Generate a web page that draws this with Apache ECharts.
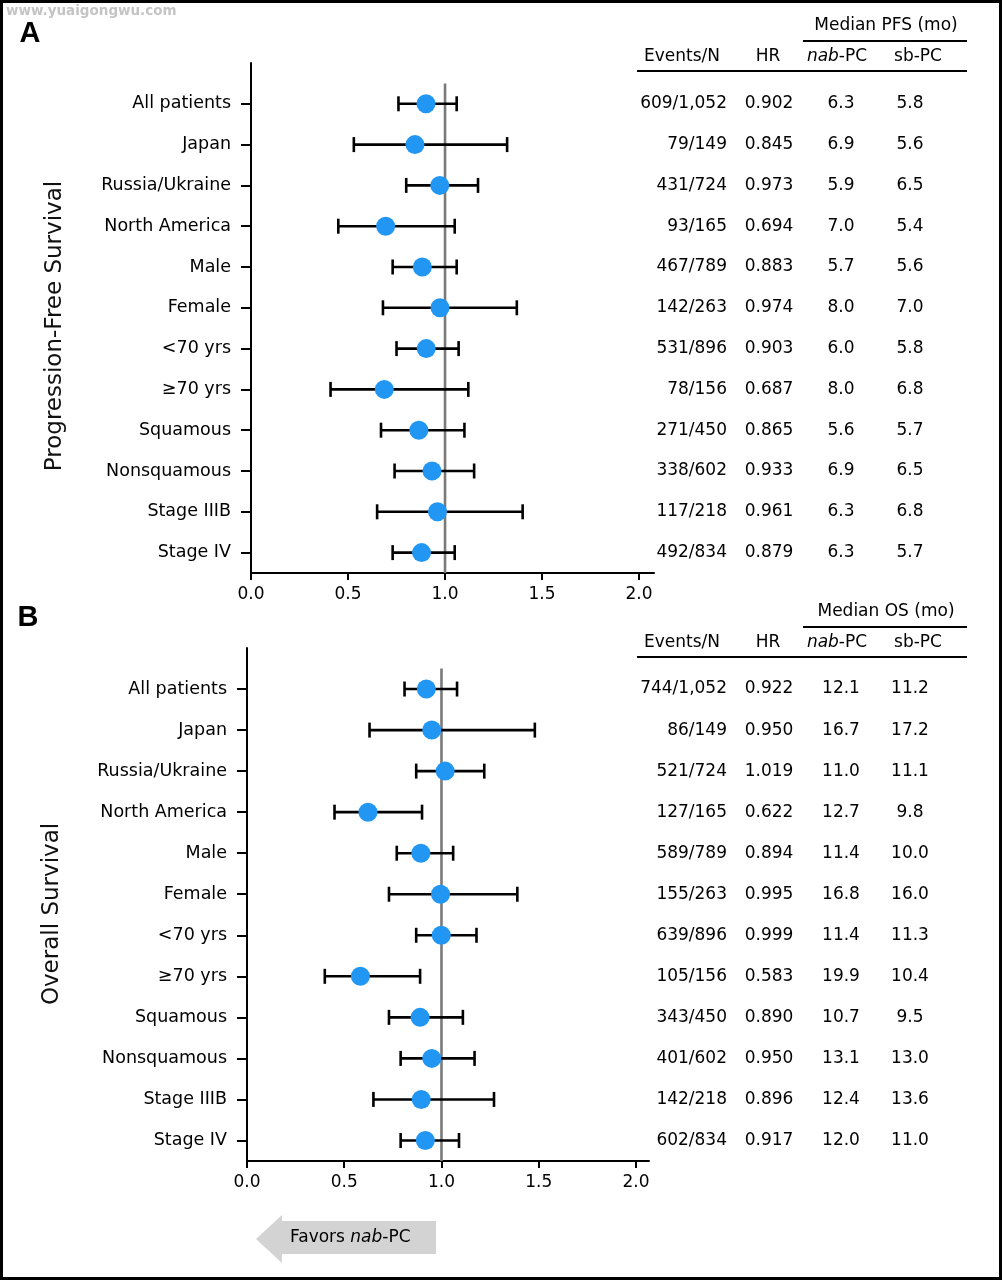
<!DOCTYPE html>
<html>
<head>
<meta charset="utf-8">
<script src="https://cdn.jsdelivr.net/npm/echarts@6/dist/echarts.min.js"></script>
<style>
html,body{margin:0;padding:0;background:#fff;}
#chart{width:1003px;height:1280px;}
</style>
</head>
<body>
<div id="chart"></div>
<script>
// ---- data ----
const categories = ['All patients','Japan','Russia/Ukraine','North America','Male','Female','<70 yrs','≥70 yrs','Squamous','Nonsquamous','Stage IIIB','Stage IV'];
const xTicks = [0, 0.5, 1.0, 1.5, 2.0];

const pfsHR   = [0.902,0.845,0.973,0.694,0.883,0.974,0.903,0.687,0.865,0.933,0.961,0.879];
const pfsLow  = [0.76,0.53,0.80,0.45,0.73,0.68,0.75,0.41,0.67,0.74,0.65,0.73];
const pfsHigh = [1.06,1.32,1.17,1.05,1.06,1.37,1.07,1.12,1.10,1.15,1.40,1.05];
const pfsEvents = ['609/1,052','79/149','431/724','93/165','467/789','142/263','531/896','78/156','271/450','338/602','117/218','492/834'];
const pfsNab = ['6.3','6.9','5.9','7.0','5.7','8.0','6.0','8.0','5.6','6.9','6.3','6.3'];
const pfsSb  = ['5.8','5.6','6.5','5.4','5.6','7.0','5.8','6.8','5.7','6.5','6.8','5.7'];

const osHR   = [0.922,0.950,1.019,0.622,0.894,0.995,0.999,0.583,0.890,0.950,0.896,0.917];
const osLow  = [0.81,0.63,0.87,0.45,0.77,0.73,0.87,0.40,0.73,0.79,0.65,0.79];
const osHigh = [1.08,1.48,1.22,0.90,1.06,1.39,1.18,0.89,1.11,1.17,1.27,1.09];
const osEvents = ['744/1,052','86/149','521/724','127/165','589/789','155/263','639/896','105/156','343/450','401/602','142/218','602/834'];
const osNab = ['12.1','16.7','11.0','12.7','11.4','16.8','11.4','19.9','10.7','13.1','12.4','12.0'];
const osSb  = ['11.2','17.2','11.1','9.8','10.0','16.0','11.3','10.4','9.5','13.0','13.6','11.0'];

const refValue = 1.0;
// ---- end data ----

const FONT = 'DejaVu Sans';
const rows = categories.map((c, i) => i);
const chart = echarts.init(document.getElementById('chart'));

function xAxisCfg(gi, max) {
  return {
    gridIndex: gi, type: 'value', min: 0, max: max,
    axisLine: {show: true, onZero: false, lineStyle: {color: '#000', width: 2}},
    axisTick: {show: true, length: 7, customValues: xTicks, lineStyle: {color: '#000', width: 2}},
    axisLabel: {customValues: xTicks, formatter: v => v.toFixed(1), fontSize: 17, fontFamily: FONT, color: '#000', margin: 13},
    splitLine: {show: false}
  };
}
function yAxisCfg(gi) {
  return {
    gridIndex: gi, type: 'value', inverse: true, min: -1, max: 11.5,
    axisLine: {show: true, onZero: false, lineStyle: {color: '#000', width: 2}},
    axisTick: {show: true, length: 10, customValues: rows, lineStyle: {color: '#000', width: 2}},
    axisLabel: {customValues: rows, formatter: v => categories[Math.round(v)], fontSize: 17.5, fontFamily: FONT, color: '#000', margin: 20},
    splitLine: {show: false}
  };
}

function errSeries(gi, low, high) {
  return {
    type: 'custom', xAxisIndex: gi, yAxisIndex: gi, z: 3,
    data: rows.map(i => [i, low[i], high[i]]),
    renderItem: function (params, api) {
      const r = api.value(0);
      const p1 = api.coord([api.value(1), r]);
      const p2 = api.coord([api.value(2), r]);
      const h = 7.5;
      const st = {stroke: '#000', lineWidth: 2.6};
      return {type: 'group', children: [
        {type: 'line', shape: {x1: p1[0], y1: p1[1], x2: p2[0], y2: p2[1]}, style: st},
        {type: 'line', shape: {x1: p1[0], y1: p1[1] - h, x2: p1[0], y2: p1[1] + h}, style: st},
        {type: 'line', shape: {x1: p2[0], y1: p2[1] - h, x2: p2[0], y2: p2[1] + h}, style: st}
      ]};
    }
  };
}

function tableSeries(gi, events, hr, nab, sb) {
  return {
    type: 'custom', xAxisIndex: gi, yAxisIndex: gi, z: 5, clip: false, silent: true,
    data: rows.map(i => [0, i]),
    renderItem: function (params, api) {
      const i = params.dataIndex;
      const y = api.coord([0, api.value(1)])[1];
      const base = {fontSize: 17, fontFamily: FONT, fill: '#000', verticalAlign: 'middle'};
      return {type: 'group', children: [
        {type: 'text', x: 727, y: y, style: Object.assign({text: events[i], align: 'right'}, base)},
        {type: 'text', x: 769, y: y, style: Object.assign({text: hr[i].toFixed(3), align: 'center'}, base)},
        {type: 'text', x: 841, y: y, style: Object.assign({text: nab[i], align: 'center'}, base)},
        {type: 'text', x: 910, y: y, style: Object.assign({text: sb[i], align: 'center'}, base)}
      ]};
    }
  };
}

function refSeries(gi) {
  return {
    type: 'line', xAxisIndex: gi, yAxisIndex: gi, z: 2, symbol: 'none', silent: true,
    data: [[refValue, -0.5], [refValue, 11.5]],
    lineStyle: {color: '#7a7a7a', width: 2.6}
  };
}

function pointSeries(gi, hr) {
  return {
    type: 'scatter', xAxisIndex: gi, yAxisIndex: gi, z: 4, symbolSize: 19,
    itemStyle: {color: '#2196F3', opacity: 1},
    data: rows.map(i => [hr[i], i])
  };
}

function header(y0, title) {
  const base = {fontSize: 17, fontFamily: FONT, fill: '#000', verticalAlign: 'middle'};
  return [
    {type: 'text', x: 886, y: y0, style: Object.assign({text: title, align: 'center', fontSize: 17.5}, base)},
    {type: 'line', shape: {x1: 803, y1: y0 + 15, x2: 967, y2: y0 + 15}, style: {stroke: '#000', lineWidth: 2}},
    {type: 'text', x: 682, y: y0 + 31, style: Object.assign({text: 'Events/N', align: 'center'}, base)},
    {type: 'text', x: 768, y: y0 + 31, style: Object.assign({text: 'HR', align: 'center'}, base)},
    {type: 'text', x: 837, y: y0 + 31, style: Object.assign({text: '{i|nab}-PC', align: 'center', rich: {i: {fontStyle: 'italic', fontSize: 17, fontFamily: FONT}}}, base)},
    {type: 'text', x: 918, y: y0 + 31, style: Object.assign({text: 'sb-PC', align: 'center'}, base)},
    {type: 'line', shape: {x1: 637, y1: y0 + 45, x2: 967, y2: y0 + 45}, style: {stroke: '#000', lineWidth: 2}}
  ];
}

const graphics = [
  {type: 'rect', shape: {x: 1.5, y: 1.5, width: 999, height: 1277}, style: {fill: 'none', stroke: '#000', lineWidth: 3}, z: 10},
  {type: 'text', x: 6, y: 11, style: {text: 'www.yuaigongwu.com', fontSize: 13.5, fontWeight: 'bold', fontFamily: 'DejaVu Sans', fill: '#c4c4c4', verticalAlign: 'middle'}, z: 11},
  {type: 'text', x: 30, y: 34, style: {text: 'A', fontSize: 29, fontWeight: 'bold', fontFamily: 'Liberation Sans', fill: '#000', align: 'center', verticalAlign: 'middle'}},
  {type: 'text', x: 28, y: 618, style: {text: 'B', fontSize: 29, fontWeight: 'bold', fontFamily: 'Liberation Sans', fill: '#000', align: 'center', verticalAlign: 'middle'}},
  {type: 'text', x: 55, y: 326, rotation: Math.PI / 2, style: {text: 'Progression-Free Survival', fontSize: 23, fontFamily: FONT, fill: '#111', align: 'center', verticalAlign: 'middle'}},
  {type: 'text', x: 52, y: 914, rotation: Math.PI / 2, style: {text: 'Overall Survival', fontSize: 23, fontFamily: FONT, fill: '#111', align: 'center', verticalAlign: 'middle'}},
  {type: 'polygon', shape: {points: [[256,1239],[282,1215],[282,1221],[436,1221],[436,1254],[282,1254],[282,1263]]}, style: {fill: '#d3d3d3'}},
  {type: 'text', x: 290, y: 1238, style: {text: 'Favors {i|nab}-PC', fontSize: 17, fontFamily: FONT, fill: '#000', verticalAlign: 'middle', rich: {i: {fontStyle: 'italic', fontSize: 17, fontFamily: FONT}}}}
].concat(header(26, 'Median PFS (mo)')).concat(header(612, 'Median OS (mo)'));

chart.setOption({
  animation: false,
  backgroundColor: '#fff',
  grid: [
    {left: 251, top: 63, width: 403, height: 510},
    {left: 247, top: 648, width: 402, height: 513}
  ],
  xAxis: [xAxisCfg(0, 2.077), xAxisCfg(1, 2.067)],
  yAxis: [yAxisCfg(0), yAxisCfg(1)],
  graphic: graphics,
  series: [
    refSeries(0), errSeries(0, pfsLow, pfsHigh), pointSeries(0, pfsHR), tableSeries(0, pfsEvents, pfsHR, pfsNab, pfsSb),
    refSeries(1), errSeries(1, osLow, osHigh), pointSeries(1, osHR), tableSeries(1, osEvents, osHR, osNab, osSb)
  ]
});
</script>
</body>
</html>
